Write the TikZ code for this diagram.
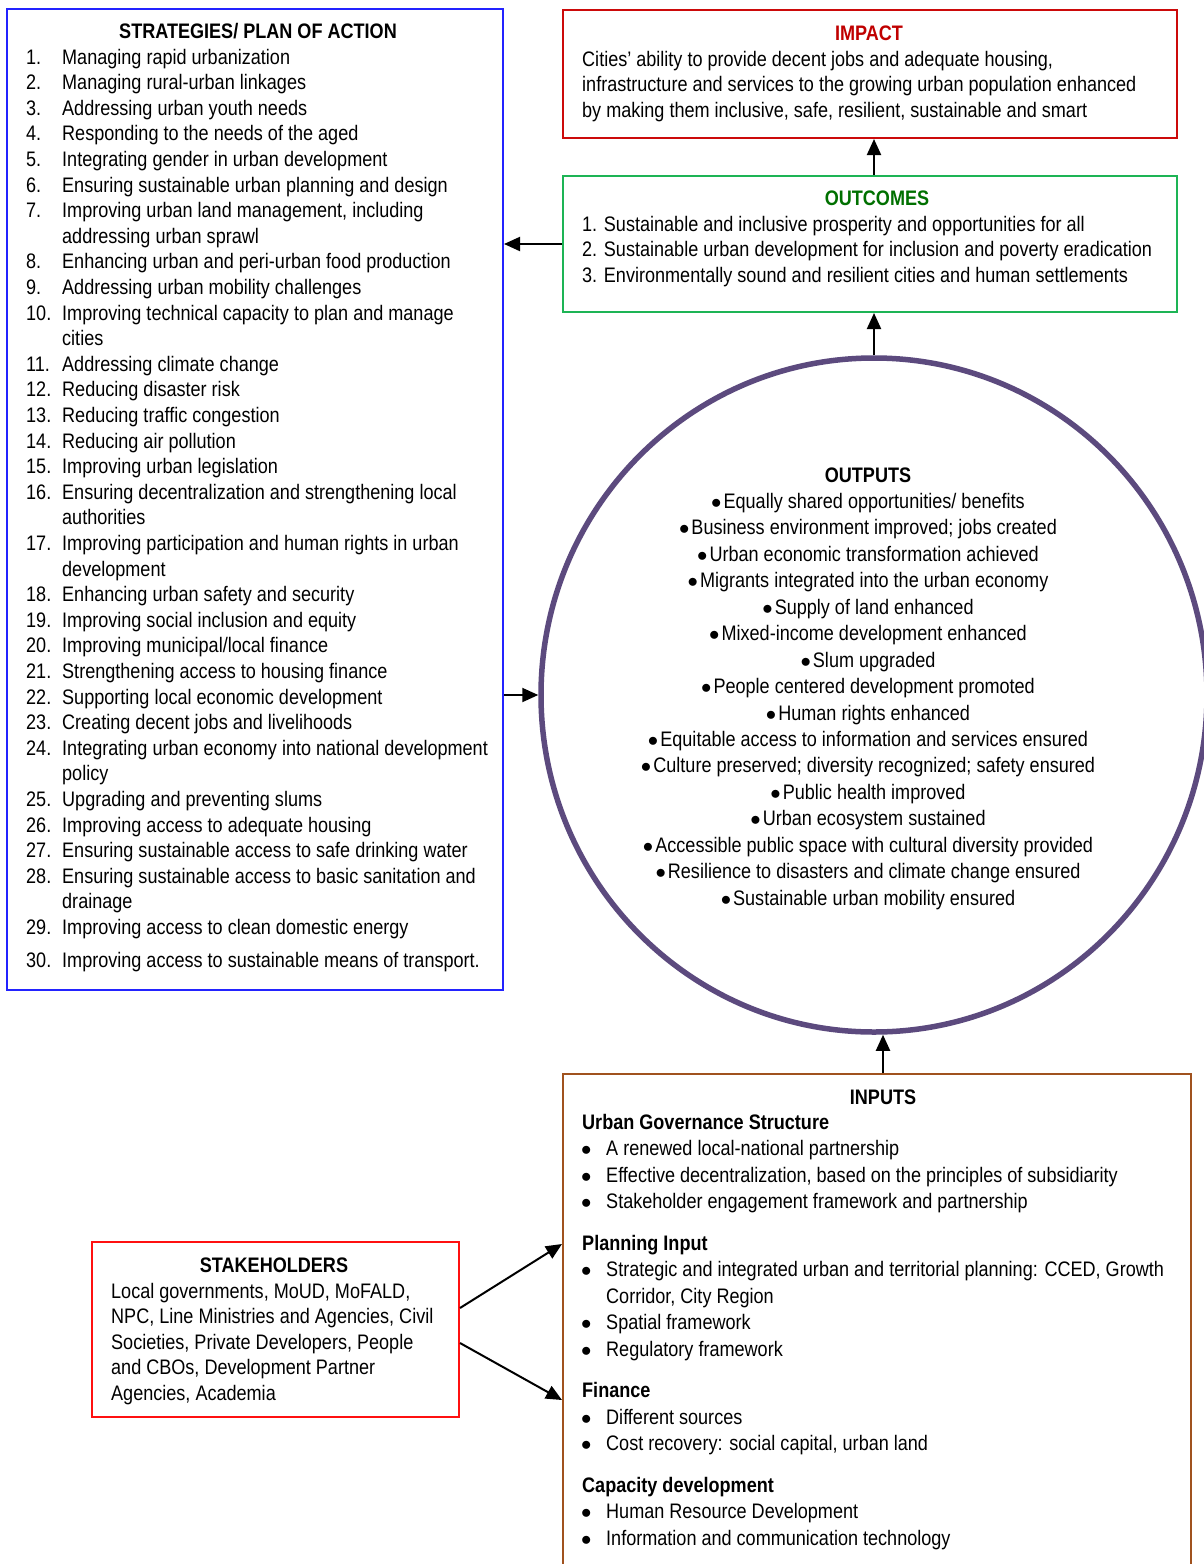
\documentclass[tikz,border=0pt]{standalone}
\usepackage{fontspec}
\setmainfont{Liberation Sans}[FakeStretch=0.86]
\usetikzlibrary{arrows.meta,shapes.geometric}
\definecolor{stratblue}{HTML}{2323FF}
\definecolor{impred}{HTML}{CC0A0A}
\definecolor{imptitle}{HTML}{C00000}
\definecolor{outgreen}{HTML}{1DB455}
\definecolor{outtitle}{HTML}{007000}
\definecolor{outpurple}{HTML}{5C4A7E}
\definecolor{inpbrown}{HTML}{A0521E}
\definecolor{stkred}{HTML}{FF1010}
\newcommand{\mainfs}{\fontsize{21}{25.6}\selectfont}
\newcommand{\outfs}{\fontsize{21}{26.45}\selectfont}
\newcommand{\inpfs}{\fontsize{21}{26.5}\selectfont}
\newcommand{\nm}[1]{\makebox[36pt][l]{#1}}
\newcommand{\bl}{\makebox[24pt][l]{\hspace{-1pt}$\bullet$}}
\newcommand{\ob}{$\bullet$\kern2pt}
\tikzset{
  box/.style={draw, line width=2pt, rectangle, inner sep=0pt, anchor=north west},
  arr/.style={line width=2pt, -{Triangle[length=16pt,width=14pt]}},
  txt/.style={inner sep=0pt, anchor=base west, font=\mainfs, align=left},
  ttl/.style={inner sep=0pt, anchor=base, font=\mainfs\bfseries},
}
\begin{document}
\begin{tikzpicture}[x=1pt,y=1pt]
\useasboundingbox (0,0) rectangle (1204,-1564);
\fill[white] (0,0) rectangle (1204,-1564);

% boxes
\node[box, draw=stratblue, minimum width=496, minimum height=981] (strat) at (6,-8) {};
\node[box, draw=impred, minimum width=614, minimum height=128] (imp) at (562,-9) {};
\node[box, draw=outgreen, minimum width=614, minimum height=136] (outc) at (562,-175) {};
\node[box, draw=inpbrown, minimum width=628, minimum height=520] (inp) at (562,-1073) {};
\node[box, draw=stkred, minimum width=367, minimum height=175] (stk) at (91,-1241) {};
\node[draw=outpurple, line width=5.5pt, ellipse, minimum width=666, minimum height=674, inner sep=0pt] (out) at (874,-695) {};

% strategies
\node[ttl] (strattitle) at (258,-38) {STRATEGIES/ PLAN OF ACTION};
\node[txt] (stratlist) at (26,-64) {\begin{tabular}[t]{@{}l@{}l@{}}
\nm{1.} & Managing rapid urbanization\\
\nm{2.} & Managing rural-urban linkages\\
\nm{3.} & Addressing urban youth needs\\
\nm{4.} & Responding to the needs of the aged\\
\nm{5.} & Integrating gender in urban development\\
\nm{6.} & Ensuring sustainable urban planning and design\\
\nm{7.} & Improving urban land management, including\\
 & addressing urban sprawl\\
\nm{8.} & Enhancing urban and peri-urban food production\\
\nm{9.} & Addressing urban mobility challenges\\
\nm{10.} & Improving technical capacity to plan and manage\\
 & cities\\
\nm{11.} & Addressing climate change\\
\nm{12.} & Reducing disaster risk\\
\nm{13.} & Reducing traffic congestion\\
\nm{14.} & Reducing air pollution\\
\nm{15.} & Improving urban legislation\\
\nm{16.} & Ensuring decentralization and strengthening local\\
 & authorities\\
\nm{17.} & Improving participation and human rights in urban\\
 & development\\
\nm{18.} & Enhancing urban safety and security\\
\nm{19.} & Improving social inclusion and equity\\
\nm{20.} & Improving municipal/local finance\\
\nm{21.} & Strengthening access to housing finance\\
\nm{22.} & Supporting local economic development\\
\nm{23.} & Creating decent jobs and livelihoods\\
\nm{24.} & Integrating urban economy into national development\\
 & policy\\
\nm{25.} & Upgrading and preventing slums\\
\nm{26.} & Improving access to adequate housing\\
\nm{27.} & Ensuring sustainable access to safe drinking water\\
\nm{28.} & Ensuring sustainable access to basic sanitation and\\
 & drainage\\
\nm{29.} & Improving access to clean domestic energy\\[7pt]
\nm{30.} & Improving access to sustainable means of transport.
\end{tabular}};

% impact
\node[ttl, text=imptitle] (imptitle) at (869,-40) {IMPACT};
\node[txt] (imptext) at (582,-66) {\begin{tabular}[t]{@{}l@{}}
Cities’ ability to provide decent jobs and adequate housing,\\
infrastructure and services to the growing urban population enhanced\\
by making them inclusive, safe, resilient, sustainable and smart
\end{tabular}};

% outcomes
\node[ttl, text=outtitle] (outctitle) at (877,-205) {OUTCOMES};
\node[txt] (outctext) at (582,-231) {\begin{tabular}[t]{@{}l@{}}
1. Sustainable and inclusive prosperity and opportunities for all\\
2. Sustainable urban development for inclusion and poverty eradication\\
3. Environmentally sound and resilient cities and human settlements
\end{tabular}};

% outputs
\node[inner sep=0pt, anchor=base, font=\outfs] (outtext) at (868,-482) {\begin{tabular}[t]{@{}c@{}}
\textbf{OUTPUTS}\\
\ob Equally shared opportunities/ benefits\\
\ob Business environment improved; jobs created\\
\ob Urban economic transformation achieved\\
\ob Migrants integrated into the urban economy\\
\ob Supply of land enhanced\\
\ob Mixed-income development enhanced\\
\ob Slum upgraded\\
\ob People centered development promoted\\
\ob Human rights enhanced\\
\ob Equitable access to information and services ensured\\
\ob Culture preserved; diversity recognized; safety ensured\\
\ob Public health improved\\
\ob Urban ecosystem sustained\\
\ob Accessible public space with cultural diversity provided\\
\ob Resilience to disasters and climate change ensured\\
\ob Sustainable urban mobility ensured
\end{tabular}};

% inputs
\node[ttl] (inptitle) at (883,-1104) {INPUTS};
\node[inner sep=0pt, anchor=base west, font=\inpfs] (inptext) at (582,-1129) {\begin{tabular}[t]{@{}l@{}l@{}}
\multicolumn{2}{@{}l@{}}{\textbf{Urban Governance Structure}}\\
\bl & A renewed local-national partnership\\
\bl & Effective decentralization, based on the principles of subsidiarity\\
\bl & Stakeholder engagement framework and partnership\\[15pt]
\multicolumn{2}{@{}l@{}}{\textbf{Planning Input}}\\
\bl & Strategic and integrated urban and territorial planning: CCED, Growth\\
 & Corridor, City Region\\
\bl & Spatial framework\\
\bl & Regulatory framework\\[15pt]
\multicolumn{2}{@{}l@{}}{\textbf{Finance}}\\
\bl & Different sources\\
\bl & Cost recovery: social capital, urban land\\[15pt]
\multicolumn{2}{@{}l@{}}{\textbf{Capacity development}}\\
\bl & Human Resource Development\\
\bl & Information and communication technology
\end{tabular}};

% stakeholders
\node[ttl] (stktitle) at (274,-1272) {STAKEHOLDERS};
\node[inner sep=0pt, anchor=base west, font=\fontsize{21}{25.5}\selectfont] (stktext) at (111,-1298) {\begin{tabular}[t]{@{}l@{}}
Local governments, MoUD, MoFALD,\\
NPC, Line Ministries and Agencies, Civil\\
Societies, Private Developers, People\\
and CBOs, Development Partner\\
Agencies, Academia
\end{tabular}};

% connectors
\draw[arr] (out.north |- outc.north) -- (out.north |- imp.south);
\draw[arr] (out.north) -- (out.north |- outc.south);
\draw[arr] (outc.west) -- (outc.west -| strat.east);
\draw[arr] (strat.east |- out.west) -- (out.west);
\coordinate (inparr) at (883,-1073);
\draw[arr] (inparr) -- (inparr |- out.south);
\draw[arr] ([yshift=21.5pt]stk.east) -- ([yshift=-171pt]inp.north west);
\draw[arr] ([yshift=-13.5pt]stk.east) -- ([yshift=-327pt]inp.north west);
\end{tikzpicture}
\end{document}
